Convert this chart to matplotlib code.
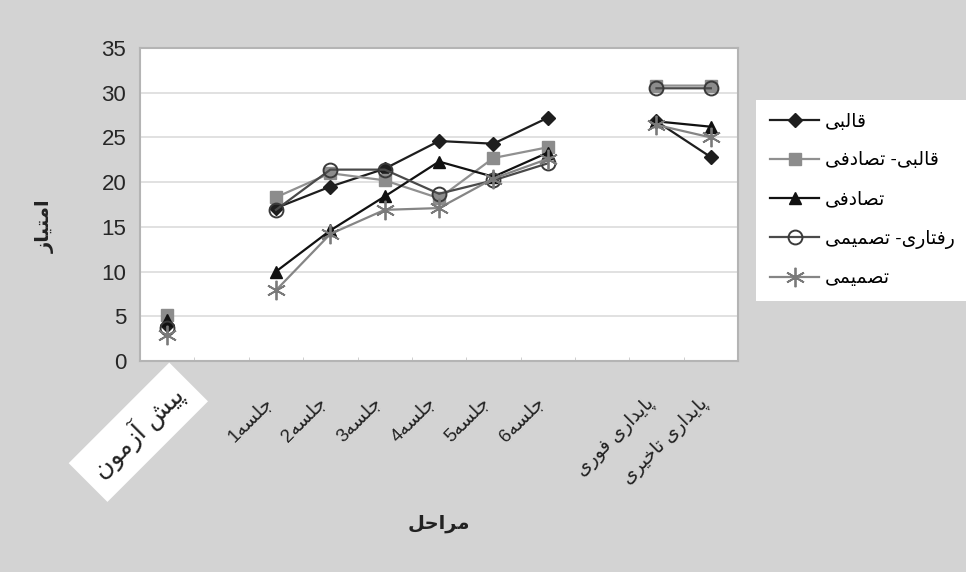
import matplotlib
matplotlib.use("Agg")
import matplotlib.pyplot as plt
import matplotlib.transforms as mtrans
import numpy as np

# contextual forms: isolated, final, initial, medial (None -> joins only to the right)
FORMS = {
    'ا': ('\uFE8D', '\uFE8E', None, None),
    'آ': ('\uFE81', '\uFE82', None, None),
    'ب': ('\uFE8F', '\uFE90', '\uFE91', '\uFE92'),
    'پ': ('\uFB56', '\uFB57', '\uFB58', '\uFB59'),
    'ت': ('\uFE95', '\uFE96', '\uFE97', '\uFE98'),
    'ج': ('\uFE9D', '\uFE9E', '\uFE9F', '\uFEA0'),
    'ح': ('\uFEA1', '\uFEA2', '\uFEA3', '\uFEA4'),
    'خ': ('\uFEA5', '\uFEA6', '\uFEA7', '\uFEA8'),
    'د': ('\uFEA9', '\uFEAA', None, None),
    'ر': ('\uFEAD', '\uFEAE', None, None),
    'ز': ('\uFEAF', '\uFEB0', None, None),
    'س': ('\uFEB1', '\uFEB2', '\uFEB3', '\uFEB4'),
    'ش': ('\uFEB5', '\uFEB6', '\uFEB7', '\uFEB8'),
    'ص': ('\uFEB9', '\uFEBA', '\uFEBB', '\uFEBC'),
    'ف': ('\uFED1', '\uFED2', '\uFED3', '\uFED4'),
    'ق': ('\uFED5', '\uFED6', '\uFED7', '\uFED8'),
    'ل': ('\uFEDD', '\uFEDE', '\uFEDF', '\uFEE0'),
    'م': ('\uFEE1', '\uFEE2', '\uFEE3', '\uFEE4'),
    'ن': ('\uFEE5', '\uFEE6', '\uFEE7', '\uFEE8'),
    'ه': ('\uFEE9', '\uFEEA', '\uFEEB', '\uFEEC'),
    'و': ('\uFEED', '\uFEEE', None, None),
    'ی': ('\uFBFC', '\uFBFD', '\uFBFE', '\uFBFF'),
}


def fa(s):
    # shape the letters, then reverse for right-to-left display
    out = []
    for i, c in enumerate(s):
        if c not in FORMS:
            out.append(c)
            continue
        prev = s[i - 1] if i > 0 else ''
        nxt = s[i + 1] if i + 1 < len(s) else ''
        pj = prev in FORMS and FORMS[prev][2] is not None
        nj = FORMS[c][2] is not None and nxt in FORMS
        f = FORMS[c]
        if pj and nj:
            out.append(f[3])
        elif pj:
            out.append(f[1])
        elif nj:
            out.append(f[2])
        else:
            out.append(f[0])
    return ''.join(out[::-1])


# data
stages = ['پیش آزمون', '', 'جلسه1', 'جلسه2', 'جلسه3', 'جلسه4', 'جلسه5', 'جلسه6',
          '', 'پایداری فوری', 'پایداری تاخیری']
nan = np.nan
ghalebi = [4.0, nan, 17.1, 19.5, 21.5, 24.6, 24.3, 27.2, nan, 26.8, 22.8]
ghalebi_tasadofi = [5.1, nan, 18.3, 21.0, 20.2, 18.2, 22.7, 23.9, nan, 30.8, 30.8]
tasadofi = [4.6, nan, 10.0, 14.6, 18.4, 22.3, 20.6, 23.3, nan, 26.8, 26.2]
raftari_tasmimi = [3.7, nan, 16.9, 21.4, 21.4, 18.7, 20.2, 22.1, nan, 30.5, 30.5]
tasmimi = [2.9, nan, 7.9, 14.2, 16.9, 17.1, 20.4, 22.6, nan, 26.4, 25.0]
series_names = ['قالبی', 'قالبی- تصادفی', 'تصادفی', 'رفتاری- تصمیمی', 'تصمیمی']

plt.rcParams['font.family'] = ['Liberation Sans', 'DejaVu Sans']

bg = '#d3d3d3'
fig = plt.figure(figsize=(9.66, 5.72), dpi=100, facecolor=bg)
ax = fig.add_axes([0.145, 0.369, 0.619, 0.547])
ax.set_facecolor('white')

x = np.arange(len(stages))
ax.plot(x, ghalebi, color='#1e1e1e', lw=1.6, marker='D', ms=7, mfc='#1e1e1e', mec='#1e1e1e',
        label=fa(series_names[0]))
ax.plot(x, ghalebi_tasadofi, color='#909090', lw=1.6, marker='s', ms=8, mfc='#8c8c8c', mec='#8c8c8c',
        label=fa(series_names[1]))
ax.plot(x, tasadofi, color='#111111', lw=1.6, marker='^', ms=9, mfc='#111111', mec='#111111',
        label=fa(series_names[2]))
ax.plot(x, raftari_tasmimi, color='#4a4a4a', lw=1.6, marker='o', ms=10, mfc='none', mec='#3a3a3a',
        mew=1.4, label=fa(series_names[3]))
ax.plot(x, tasmimi, color='#858585', lw=1.6, marker=(6, 2, 0), ms=14, mec='#7a7a7a', mew=1.3,
        label=fa(series_names[4]))

ax.set_xlim(-0.5, len(stages) - 0.5)
ax.set_ylim(0, 35)
ax.set_yticks(np.arange(0, 36, 5))
ax.yaxis.grid(True, color='#dcdcdc', lw=1.2)
ax.set_axisbelow(True)
for sp in ax.spines.values():
    sp.set_color('#b4b4b4')
    sp.set_linewidth(1.5)

ax.tick_params(axis='y', length=0, labelsize=16, pad=10, labelcolor='#262626')
ax.set_xticks(x)
ax.set_xticklabels([fa(s) for s in stages], rotation=45, ha='right', va='top',
                   rotation_mode='anchor', fontsize=13.5, color='#222222')
ax.tick_params(axis='x', length=0, pad=24)
ax.set_xticks(x[:-1] + 0.5, minor=True)
ax.tick_params(axis='x', which='minor', direction='in', length=3, color='#c8c8c8')

off = mtrans.ScaledTranslation(-0.12, 0, fig.dpi_scale_trans)
for lbl in ax.get_xticklabels():
    lbl.set_transform(lbl.get_transform() + off)
first = ax.get_xticklabels()[0]
first.set_fontsize(18)
first.set_bbox(dict(facecolor='white', edgecolor='none', pad=9))
first.set_transform(first.get_transform() + mtrans.ScaledTranslation(0.14, 0.14, fig.dpi_scale_trans))

ax.set_ylabel(fa('امتیاز'), fontsize=14, fontweight='bold', color='#222222')
ax.yaxis.set_label_coords(-0.142, 0.43)
ax.set_xlabel(fa('مراحل'), fontsize=14, fontweight='bold', color='#222222')
ax.xaxis.set_label_coords(0.5, -0.49)

leg = fig.legend(loc='upper left', bbox_to_anchor=(0.783, 0.826), fontsize=13.5,
                 frameon=True, fancybox=False, framealpha=1, handlelength=2.6,
                 labelspacing=1.15, borderpad=0.75, handletextpad=0.3, borderaxespad=0)
leg.get_frame().set_facecolor('white')
leg.get_frame().set_edgecolor('white')
leg.get_frame().set_linewidth(0)

fig.savefig('out.png', dpi=100, facecolor=bg)
